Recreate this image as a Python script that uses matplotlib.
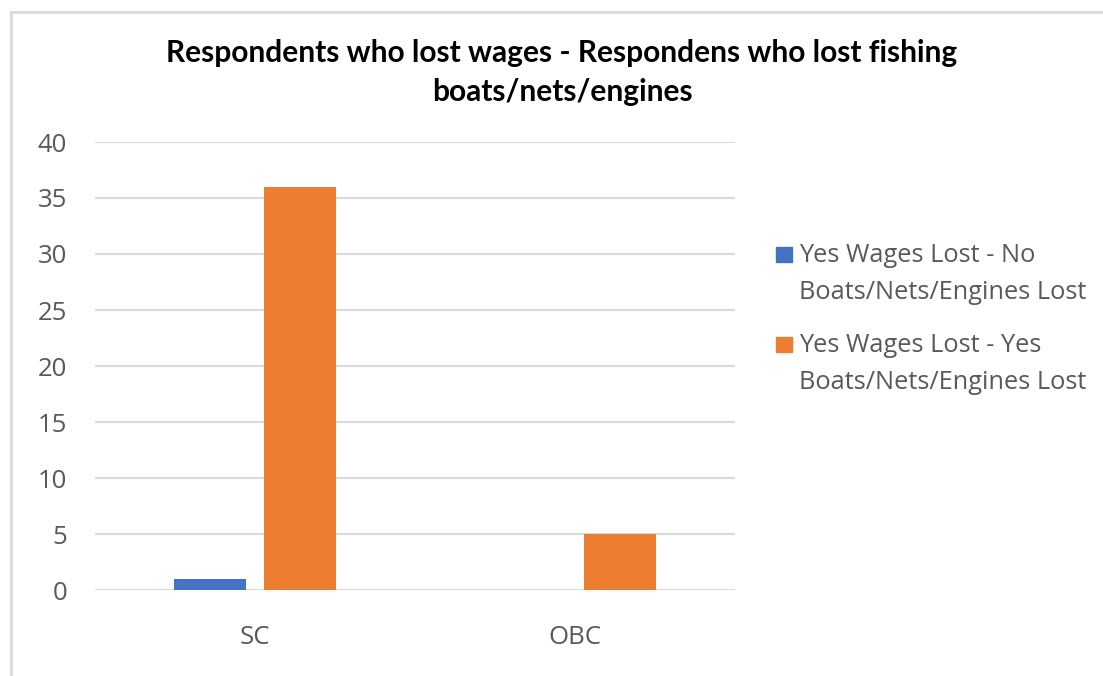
import matplotlib
matplotlib.use("Agg")
import matplotlib.pyplot as plt
from matplotlib.lines import Line2D
from matplotlib.patches import Rectangle
import numpy as np

categories = ["SC", "OBC"]
wages_no_boats = [1, 0]
wages_yes_boats = [36, 5]
series_labels = [["Yes Wages Lost - No", "Boats/Nets/Engines Lost"],
                 ["Yes Wages Lost - Yes", "Boats/Nets/Engines Lost"]]
yticks = [0, 5, 10, 15, 20, 25, 30, 35, 40]
title_lines = ["Respondents who lost wages - Respondens who lost fishing",
               "boats/nets/engines"]

BLUE = "#4472c4"
ORANGE = "#ed7d31"
GRID = "#d9d9d9"
TEXT = "#595959"
SANS = ["Open Sans", "DejaVu Sans"]

W, H = 1103, 676
fig = plt.figure(figsize=(W / 100, H / 100), dpi=100)
fig.patch.set_facecolor("white")


def fx(px):
    return px / W


def fy(py):
    return 1 - py / H


# chart frame (top and left edges visible)
fig.add_artist(Line2D([fx(11), fx(11)], [0, fy(12)], transform=fig.transFigure,
                      color="#d9d9d9", lw=2))
fig.add_artist(Line2D([fx(11), 1], [fy(12), fy(12)], transform=fig.transFigure,
                      color="#d9d9d9", lw=2))

ax = fig.add_axes([fx(95), fy(590), 640 / W, 448 / H])
x = np.arange(len(categories))
bw = 0.225
off = 0.142
ax.bar(x - off, wages_no_boats, bw, color=BLUE, zorder=3)
ax.bar(x + off, wages_yes_boats, bw, color=ORANGE, zorder=3)

ax.set_xlim(-0.5, 1.5)
ax.set_ylim(0, 40)
ax.set_yticks(yticks)
ax.set_xticks(x)
ax.set_xticklabels(categories)
for s in ax.spines.values():
    s.set_visible(False)
ax.yaxis.grid(True, color=GRID, lw=1.5, zorder=0)
ax.set_axisbelow(True)
ax.tick_params(length=0, labelsize=18.5, labelcolor=TEXT)
ax.tick_params(axis="y", pad=20)
ax.tick_params(axis="x", pad=25)
for t in ax.get_xticklabels() + ax.get_yticklabels():
    t.set_fontfamily(SANS)

# title, two centred lines
for line, base in zip(title_lines, [62, 101]):
    fig.text(fx(562), fy(base), line, ha="center", va="baseline",
             fontsize=21.5, fontweight="bold", color="black",
             family=["Lato", "DejaVu Sans"])

# legend: swatch beside the first line of each label
for color, lines, top in zip([BLUE, ORANGE], series_labels, [262, 352]):
    fig.add_artist(Rectangle((fx(776), fy(top)), 16 / W, 15 / H,
                             transform=fig.transFigure, color=color))
    for i, line in enumerate(lines):
        fig.text(fx(799), fy(top + 37 * i), line, ha="left", va="baseline",
                 fontsize=18.3, color=TEXT, family=SANS)

fig.savefig("out.png", dpi=100, facecolor="white")
